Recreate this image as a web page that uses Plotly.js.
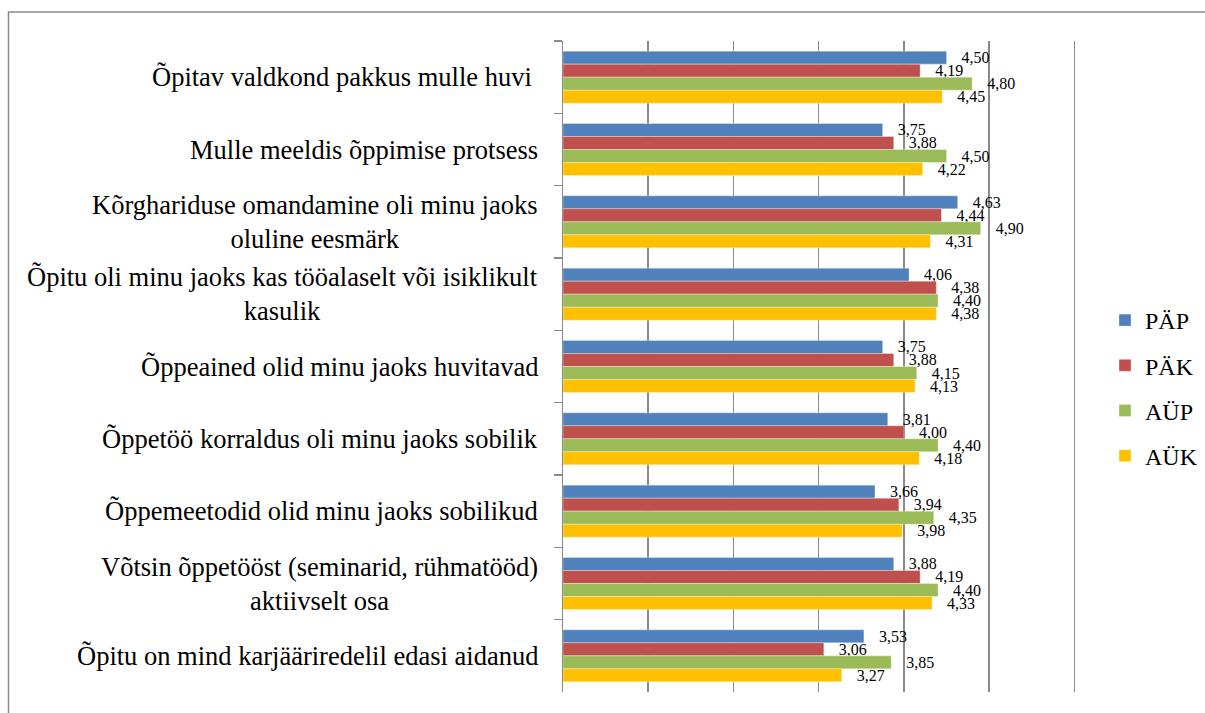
<!DOCTYPE html>
<html>
<head>
<meta charset="utf-8">
<script src="https://cdn.plot.ly/plotly-3.0.1.min.js"></script>
<style>
html,body{margin:0;padding:0;background:#fff;}
#chart{width:1205px;height:713px;}
</style>
</head>
<body>
<div id="chart"></div>
<script>
var categories = [
  "Õpitav valdkond pakkus mulle huvi ",
  "Mulle meeldis õppimise protsess",
  "Kõrghariduse omandamine oli minu jaoks<br>oluline eesmärk",
  "Õpitu oli minu jaoks kas tööalaselt või isiklikult<br>kasulik",
  "Õppeained olid minu jaoks huvitavad",
  "Õppetöö korraldus oli minu jaoks sobilik",
  "Õppemeetodid olid minu jaoks sobilikud",
  "Võtsin õppetööst (seminarid, rühmatööd)<br>aktiivselt osa",
  "Õpitu on mind karjääriredelil edasi aidanud"
];
var seriesNames = ["PÄP", "PÄK", "AÜP", "AÜK"];
var PAP = [4.50, 3.75, 4.63, 4.06, 3.75, 3.81, 3.66, 3.88, 3.53];
var PAK = [4.19, 3.88, 4.44, 4.38, 3.88, 4.00, 3.94, 4.19, 3.06];
var AUP = [4.80, 4.50, 4.90, 4.40, 4.15, 4.40, 4.35, 4.40, 3.85];
var AUK = [4.45, 4.22, 4.31, 4.38, 4.13, 4.18, 3.98, 4.33, 3.27];
var colors = ["#4F81BD", "#C0504D", "#9BBB59", "#FFC000"];

var serif = 'Liberation Serif, Times New Roman, serif';
var seriesValues = [PAP, PAK, AUP, AUK];

var traces = seriesValues.map(function(vals, i) {
  return {
    type: 'bar',
    orientation: 'h',
    name: seriesNames[i],
    legendgroup: 'g' + i,
    x: vals,
    y: categories,
    marker: {color: colors[i], line: {width: 0.6, color: 'rgba(255,255,255,0.55)'}},
    texttemplate: '\u00a0\u00a0\u00a0%{x:.2f}',
    textposition: 'outside',
    constraintext: 'none',
    cliponaxis: false,
    textfont: {family: serif, size: 16, color: '#000'},
    hoverinfo: 'x+name'
  };
});

var XMAX = 6.03;
var PL = 563, PT = 41, PB = 692;
var PR = Math.round(PL + 511 * XMAX / 6);
var W = PR - PL, H = PB - PT;
function px2x(p){ return (p - PL) / W; }
function py2y(p){ return (PB - p) / H; }

var annotations = categories.map(function(c) {
  return {
    xref: 'paper', yref: 'y',
    x: px2x(540), y: c,
    xanchor: 'right', yanchor: 'middle',
    align: 'center',
    text: c,
    showarrow: false,
    font: {family: serif, size: 26.5, color: '#000'}
  };
});

var layout = {
  width: 1205, height: 713,
  margin: {l: PL, r: 1205 - PR, t: PT, b: 713 - PB, pad: 0, autoexpand: false},
  paper_bgcolor: '#fff',
  plot_bgcolor: '#fff',
  separators: ',.',
  barmode: 'group',
  bargap: 0.28,
  bargroupgap: 0,
  showlegend: true,
  legend: {
    x: px2x(1105), xanchor: 'left',
    y: py2y(388), yanchor: 'middle',
    traceorder: 'grouped',
    tracegroupgap: 11,
    font: {family: serif, size: 24, color: '#000'},
    bgcolor: 'rgba(0,0,0,0)'
  },
  xaxis: {
    range: [0, XMAX],
    tick0: 0,
    dtick: 1,
    showgrid: true,
    gridcolor: '#8a8a8a',
    gridwidth: 1.5,
    zeroline: false,
    showline: false,
    showticklabels: false,
    ticks: '',
    fixedrange: true
  },
  yaxis: {
    type: 'category',
    autorange: 'reversed',
    tickson: 'boundaries',
    ticks: 'outside',
    ticklen: 8,
    tickwidth: 1.5,
    tickcolor: '#8a8a8a',
    showline: true,
    linecolor: '#8a8a8a',
    linewidth: 1.5,
    showgrid: false,
    zeroline: false,
    showticklabels: false,
    fixedrange: true
  },
  annotations: annotations,
  shapes: [{
    type: 'rect', xref: 'paper', yref: 'paper',
    x0: px2x(8.5), x1: px2x(1215),
    y0: py2y(725), y1: py2y(12),
    line: {color: '#8a8a8a', width: 1.5},
    fillcolor: 'rgba(0,0,0,0)',
    layer: 'below'
  }]
};

Plotly.newPlot('chart', traces, layout, {displayModeBar: false, staticPlot: true});
</script>
</body>
</html>
